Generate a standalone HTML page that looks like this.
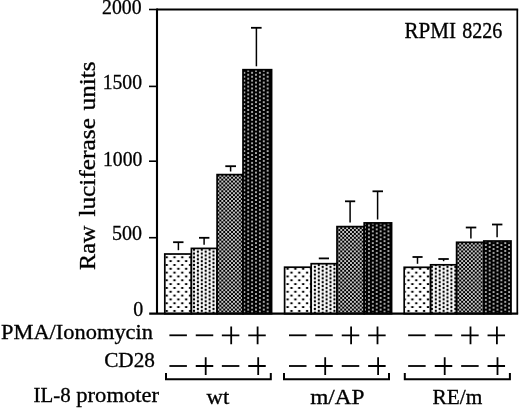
<!DOCTYPE html>
<html><head><meta charset="utf-8"><title>chart</title>
<style>html,body{margin:0;padding:0;background:#fff}svg{display:block;will-change:transform;opacity:0.999}text{font-family:"Liberation Serif",serif;fill:#000;stroke:#000;stroke-width:0.32px}</style>
</head><body>
<svg width="520" height="408" viewBox="0 0 520 408">
<defs>
<pattern id="p1" patternUnits="userSpaceOnUse" width="7.8" height="7.66" patternTransform="translate(174.5 272.6)"><rect width="7.8" height="7.66" fill="#fff"/><rect x="-1.180" y="-0.950" width="2.360" height="1.900" rx="0.570" fill="#000"/><rect x="6.620" y="-0.950" width="2.360" height="1.900" rx="0.570" fill="#000"/><rect x="-1.180" y="6.710" width="2.360" height="1.900" rx="0.570" fill="#000"/><rect x="6.620" y="6.710" width="2.360" height="1.900" rx="0.570" fill="#000"/><rect x="2.720" y="2.880" width="2.360" height="1.900" rx="0.570" fill="#000"/></pattern>
<pattern id="p2" patternUnits="userSpaceOnUse" width="7.8" height="3.82" patternTransform="translate(194 265)"><rect width="7.8" height="3.82" fill="#fff"/><rect x="-1.080" y="-1.080" width="2.160" height="2.160" rx="0.648" fill="#000"/><rect x="6.720" y="-1.080" width="2.160" height="2.160" rx="0.648" fill="#000"/><rect x="-1.080" y="2.740" width="2.160" height="2.160" rx="0.648" fill="#000"/><rect x="6.720" y="2.740" width="2.160" height="2.160" rx="0.648" fill="#000"/><rect x="2.820" y="0.830" width="2.160" height="2.160" rx="0.648" fill="#000"/></pattern>
<pattern id="p3" patternUnits="userSpaceOnUse" width="3.9" height="3.88" patternTransform="translate(217.4 180.6)"><rect width="3.9" height="3.88" fill="#000"/><rect x="0.12" y="0.12" width="1.72" height="1.68" fill="#fff"/><rect x="2.07" y="2.06" width="1.72" height="1.68" fill="#fff"/></pattern>
<pattern id="p4" patternUnits="userSpaceOnUse" width="7.79" height="3.915" patternTransform="translate(248.2 74.75)"><rect width="7.79" height="3.915" fill="#000"/><rect x="-0.930" y="-0.830" width="1.860" height="1.660" rx="0.498" fill="#fff"/><rect x="6.860" y="-0.830" width="1.860" height="1.660" rx="0.498" fill="#fff"/><rect x="-0.930" y="3.085" width="1.860" height="1.660" rx="0.498" fill="#fff"/><rect x="6.860" y="3.085" width="1.860" height="1.660" rx="0.498" fill="#fff"/><rect x="2.965" y="1.127" width="1.860" height="1.660" rx="0.498" fill="#fff"/></pattern>
</defs>
<rect width="520" height="408" fill="#fff"/>
<rect x="164.80" y="254.00" width="26.60" height="59.70" fill="url(#p1)" stroke="#000" stroke-width="1.7"/>
<path d="M173.10 242.20H183.50" stroke="#000" stroke-width="1.8" fill="none"/>
<path d="M178.40 242.20V250.20" stroke="#000" stroke-width="1.5" fill="none"/>
<rect x="191.40" y="248.40" width="25.70" height="65.30" fill="url(#p2)" stroke="#000" stroke-width="1.7"/>
<path d="M199.00 237.80H209.40" stroke="#000" stroke-width="1.8" fill="none"/>
<path d="M204.10 237.80V244.80" stroke="#000" stroke-width="1.5" fill="none"/>
<rect x="217.10" y="174.60" width="25.90" height="139.10" fill="url(#p3)" stroke="#000" stroke-width="1.7"/>
<path d="M225.30 166.20H236.00" stroke="#000" stroke-width="1.8" fill="none"/>
<path d="M230.60 166.20V171.50" stroke="#000" stroke-width="1.5" fill="none"/>
<rect x="243.00" y="69.70" width="28.60" height="244.00" fill="url(#p4)" stroke="#000" stroke-width="1.7"/>
<path d="M251.00 27.80H261.60" stroke="#000" stroke-width="1.8" fill="none"/>
<path d="M256.40 27.80V66.30" stroke="#000" stroke-width="1.5" fill="none"/>
<rect x="284.60" y="267.20" width="26.60" height="46.50" fill="url(#p1)" stroke="#000" stroke-width="1.7"/>
<rect x="311.20" y="263.70" width="25.80" height="50.00" fill="url(#p2)" stroke="#000" stroke-width="1.7"/>
<path d="M318.80 258.40H329.00" stroke="#000" stroke-width="1.8" fill="none"/>
<rect x="337.00" y="226.60" width="27.20" height="87.10" fill="url(#p3)" stroke="#000" stroke-width="1.7"/>
<path d="M345.00 201.30H355.20" stroke="#000" stroke-width="1.8" fill="none"/>
<path d="M350.10 201.30V222.60" stroke="#000" stroke-width="1.5" fill="none"/>
<rect x="364.20" y="222.90" width="27.40" height="90.80" fill="url(#p4)" stroke="#000" stroke-width="1.7"/>
<path d="M372.50 191.30H383.00" stroke="#000" stroke-width="1.8" fill="none"/>
<path d="M377.60 191.30V219.50" stroke="#000" stroke-width="1.5" fill="none"/>
<rect x="404.20" y="267.30" width="26.40" height="46.40" fill="url(#p1)" stroke="#000" stroke-width="1.7"/>
<path d="M412.50 257.00H422.60" stroke="#000" stroke-width="1.8" fill="none"/>
<path d="M417.50 257.00V263.80" stroke="#000" stroke-width="1.5" fill="none"/>
<rect x="430.60" y="264.80" width="26.00" height="48.90" fill="url(#p2)" stroke="#000" stroke-width="1.7"/>
<path d="M438.30 259.00H448.80" stroke="#000" stroke-width="1.8" fill="none"/>
<path d="M443.60 259.00V261.20" stroke="#000" stroke-width="1.5" fill="none"/>
<rect x="456.60" y="242.30" width="27.20" height="71.40" fill="url(#p3)" stroke="#000" stroke-width="1.7"/>
<path d="M465.80 227.50H476.30" stroke="#000" stroke-width="1.8" fill="none"/>
<path d="M470.90 227.50V238.50" stroke="#000" stroke-width="1.5" fill="none"/>
<rect x="483.80" y="241.00" width="27.20" height="72.70" fill="url(#p4)" stroke="#000" stroke-width="1.7"/>
<path d="M492.00 224.50H502.40" stroke="#000" stroke-width="1.8" fill="none"/>
<path d="M497.10 224.50V237.30" stroke="#000" stroke-width="1.5" fill="none"/>
<rect x="269.3" y="69.7" width="2.3" height="244.00" fill="#000"/>
<path d="M157.0 313.7V8.6" fill="none" stroke="#000" stroke-width="2.1"/>
<path d="M157.0 9.5H518.15" fill="none" stroke="#000" stroke-width="1.8"/>
<path d="M517.3 9.5V313.7" fill="none" stroke="#000" stroke-width="1.7"/>
<path d="M149.2 313.6H518.15" fill="none" stroke="#000" stroke-width="2.2"/>
<path d="M149 237.70H157.0" stroke="#000" stroke-width="1.6"/>
<path d="M149 161.20H157.0" stroke="#000" stroke-width="1.6"/>
<path d="M149 86.40H157.0" stroke="#000" stroke-width="1.6"/>
<path d="M149 9.50H157.0" stroke="#000" stroke-width="1.6"/>
<text x="102" y="13.6" font-size="21" text-anchor="start" textLength="39.5" lengthAdjust="spacingAndGlyphs">2000</text>
<text x="102.7" y="88.8" font-size="21" text-anchor="start" textLength="39.3" lengthAdjust="spacingAndGlyphs">1500</text>
<text x="103" y="165.8" font-size="21" text-anchor="start" textLength="39.3" lengthAdjust="spacingAndGlyphs">1000</text>
<text x="111.9" y="239.8" font-size="21" text-anchor="start" textLength="30" lengthAdjust="spacingAndGlyphs">500</text>
<text x="133.2" y="316.2" font-size="21" text-anchor="start" textLength="10" lengthAdjust="spacingAndGlyphs">0</text>
<text x="404.6" y="37.6" font-size="22.4" text-anchor="start" textLength="51.4" lengthAdjust="spacingAndGlyphs">RPMI</text>
<text x="462.2" y="37.6" font-size="22.4" text-anchor="start" textLength="40.2" lengthAdjust="spacingAndGlyphs">8226</text>
<text x="1.0" y="338.5" font-size="21" text-anchor="start" textLength="152" lengthAdjust="spacingAndGlyphs">PMA/Ionomycin</text>
<text x="104.2" y="367.4" font-size="21" text-anchor="start" textLength="50.8" lengthAdjust="spacingAndGlyphs">CD28</text>
<text x="33.6" y="401.9" font-size="21" text-anchor="start" textLength="37.2" lengthAdjust="spacingAndGlyphs">IL-8</text>
<text x="76.3" y="401.9" font-size="21" text-anchor="start" textLength="82.8" lengthAdjust="spacingAndGlyphs">promoter</text>
<text x="206.5" y="403.6" font-size="21" text-anchor="start" textLength="22.7" lengthAdjust="spacingAndGlyphs">wt</text>
<text x="310.2" y="403.7" font-size="21" text-anchor="start" textLength="54.4" lengthAdjust="spacingAndGlyphs">m/AP</text>
<text x="432.5" y="403.7" font-size="21" text-anchor="start" textLength="49.8" lengthAdjust="spacingAndGlyphs">RE/m</text>
<text transform="translate(95.2 269.9) rotate(-90)" font-size="23" textLength="44.2" lengthAdjust="spacingAndGlyphs">Raw</text>
<text transform="translate(95.2 216.6) rotate(-90)" font-size="23" textLength="98.5" lengthAdjust="spacingAndGlyphs">luciferase</text>
<text transform="translate(95.2 110.4) rotate(-90)" font-size="23" textLength="49.0" lengthAdjust="spacingAndGlyphs">units</text>
<path d="M169.40 335.3H186.90" stroke="#000" stroke-width="1.8" fill="none"/>
<path d="M195.75 335.3H213.25" stroke="#000" stroke-width="1.8" fill="none"/>
<path d="M221.85 335.3H239.35M231.20 326.60V344.20" stroke="#000" stroke-width="1.8" fill="none"/>
<path d="M248.25 335.3H265.75M257.60 326.60V344.20" stroke="#000" stroke-width="1.8" fill="none"/>
<path d="M169.40 366.0H186.90" stroke="#000" stroke-width="1.8" fill="none"/>
<path d="M195.75 366.0H213.25M205.70 357.30V374.90" stroke="#000" stroke-width="1.8" fill="none"/>
<path d="M221.85 366.0H239.35" stroke="#000" stroke-width="1.8" fill="none"/>
<path d="M248.25 366.0H265.75M258.20 357.30V374.90" stroke="#000" stroke-width="1.8" fill="none"/>
<path d="M166.00 372.9V379.2H270.80V372.9" stroke="#000" stroke-width="2" fill="none"/>
<path d="M289.00 335.3H306.50" stroke="#000" stroke-width="1.8" fill="none"/>
<path d="M315.25 335.3H332.75" stroke="#000" stroke-width="1.8" fill="none"/>
<path d="M341.75 335.3H359.25M351.10 326.60V344.20" stroke="#000" stroke-width="1.8" fill="none"/>
<path d="M368.15 335.3H385.65M377.50 326.60V344.20" stroke="#000" stroke-width="1.8" fill="none"/>
<path d="M289.00 366.0H306.50" stroke="#000" stroke-width="1.8" fill="none"/>
<path d="M315.25 366.0H332.75M325.20 357.30V374.90" stroke="#000" stroke-width="1.8" fill="none"/>
<path d="M341.75 366.0H359.25" stroke="#000" stroke-width="1.8" fill="none"/>
<path d="M368.15 366.0H385.65M378.10 357.30V374.90" stroke="#000" stroke-width="1.8" fill="none"/>
<path d="M284.00 372.9V379.2H389.00V372.9" stroke="#000" stroke-width="2" fill="none"/>
<path d="M408.15 335.3H425.65" stroke="#000" stroke-width="1.8" fill="none"/>
<path d="M434.75 335.3H452.25" stroke="#000" stroke-width="1.8" fill="none"/>
<path d="M461.15 335.3H478.65M470.50 326.60V344.20" stroke="#000" stroke-width="1.8" fill="none"/>
<path d="M487.55 335.3H505.05M496.90 326.60V344.20" stroke="#000" stroke-width="1.8" fill="none"/>
<path d="M408.15 366.0H425.65" stroke="#000" stroke-width="1.8" fill="none"/>
<path d="M434.75 366.0H452.25M444.70 357.30V374.90" stroke="#000" stroke-width="1.8" fill="none"/>
<path d="M461.15 366.0H478.65" stroke="#000" stroke-width="1.8" fill="none"/>
<path d="M487.55 366.0H505.05M497.50 357.30V374.90" stroke="#000" stroke-width="1.8" fill="none"/>
<path d="M404.80 372.9V379.2H509.90V372.9" stroke="#000" stroke-width="2" fill="none"/>
</svg></body></html>
